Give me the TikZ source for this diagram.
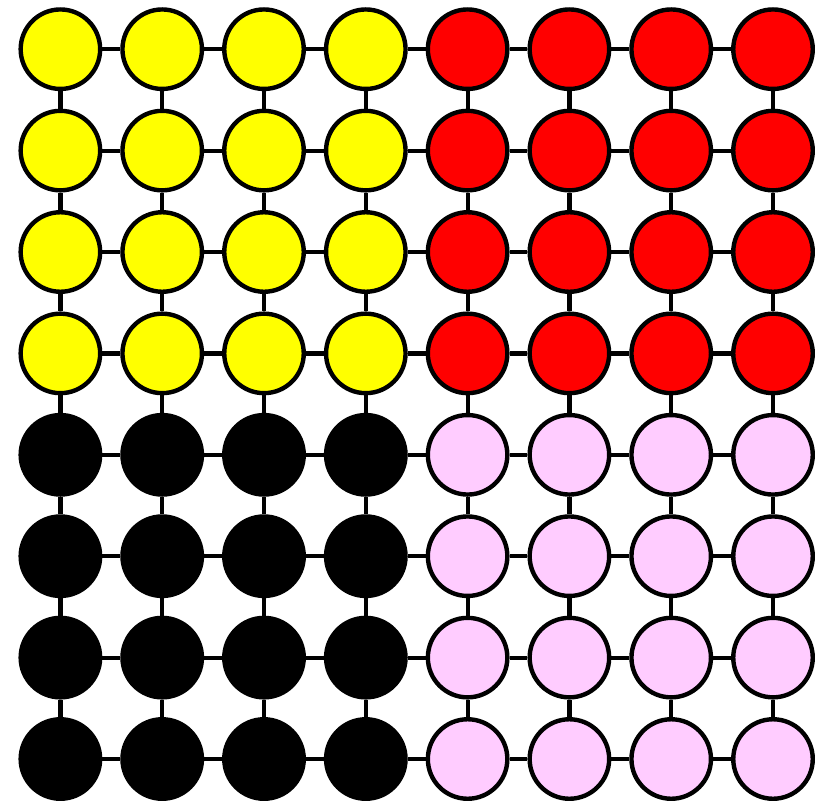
\documentclass[tikz,border=0pt]{standalone}
\definecolor{cyel}{HTML}{FFFF00}
\definecolor{cred}{HTML}{FF0000}
\definecolor{cpink}{HTML}{FFCCFF}
\tikzset{
  dot/.style={circle, draw=black, line width=4.4pt, minimum size=79.5pt, inner sep=0pt},
  link/.style={line width=4.2pt, draw=black},
}
\begin{document}
\begin{tikzpicture}[x=1pt,y=-1pt]
\useasboundingbox (0,0) rectangle (818,800);
\foreach \i in {0,...,7}{
  \foreach \j in {0,...,7}{
    \pgfmathsetmacro{\cx}{60.4+101.8*\i}
    \pgfmathsetmacro{\cy}{49.2+101.4*\j}
    \ifnum\i<4
      \ifnum\j<4 \def\fc{cyel}\else\def\fc{black}\fi
    \else
      \ifnum\j<4 \def\fc{cred}\else\def\fc{cpink}\fi
    \fi
    \node[dot, fill=\fc] (n-\i-\j) at (\cx,\cy) {};
  }
}
\foreach \i in {0,...,7}{
  \foreach \j [evaluate=\j as \k using int(\j+1)] in {0,...,6}{
    \draw[link] (n-\i-\j) -- (n-\i-\k);
    \draw[link] (n-\j-\i) -- (n-\k-\i);
  }
}
\end{tikzpicture}
\end{document}
